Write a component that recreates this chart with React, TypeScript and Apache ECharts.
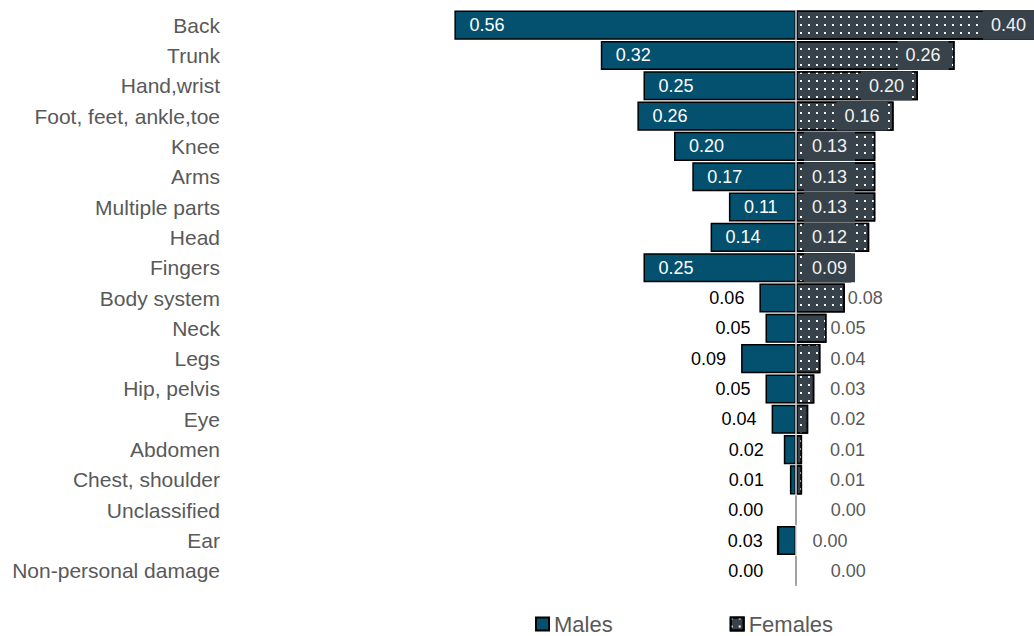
import React, { useEffect, useRef } from "react";
import * as echarts from "echarts";

// Injury location shares, by sex
const categories = [
  "Back",
  "Trunk",
  "Hand,wrist",
  "Foot, feet, ankle,toe",
  "Knee",
  "Arms",
  "Multiple parts",
  "Head",
  "Fingers",
  "Body system",
  "Neck",
  "Legs",
  "Hip, pelvis",
  "Eye",
  "Abdomen",
  "Chest, shoulder",
  "Unclassified",
  "Ear",
  "Non-personal damage",
];

const males = [0.56, 0.32, 0.25, 0.26, 0.2, 0.17, 0.11, 0.14, 0.25, 0.06, 0.05, 0.09, 0.05, 0.04, 0.02, 0.01, 0.0, 0.03, 0.0];
const females = [0.4, 0.26, 0.2, 0.16, 0.13, 0.13, 0.13, 0.12, 0.09, 0.08, 0.05, 0.04, 0.03, 0.02, 0.01, 0.01, 0.0, 0.0, 0.0];

const MALE_COLOR = "#03506f";
const FEMALE_COLOR = "#37424b";
const FONT = "'Liberation Sans', Arial, Helvetica, sans-serif";

export default function App() {
  const ref = useRef<HTMLDivElement>(null);

  useEffect(() => {
    if (!ref.current) return;
    const chart = echarts.init(ref.current, null, { renderer: "svg" });

    const maleData = males.map((v) => ({
      value: -v,
      label:
        v >= 0.1
          ? { position: "insideLeft", distance: 15, color: "#ffffff" }
          : { position: "left", distance: Math.max(15, 32 - v * 600), color: "#000000" },
    }));

    const boxLabel = {
      color: "#f2f2f2",
      backgroundColor: FEMALE_COLOR,
      padding: [6, 8, 5, 8],
      lineHeight: 18,
    };

    const femaleData = females.map((v) => {
      if (v >= 0.16) return { value: v, label: { position: "insideRight", distance: 6, ...boxLabel } };
      if (v >= 0.09) return { value: v, label: { position: "insideLeft", distance: 8, ...boxLabel } };
      return {
        value: v,
        label: { position: "right", distance: Math.max(3, 34 - v * 600), color: "#595959" },
      };
    });

    const labelBase = {
      show: true,
      fontSize: 18,
      fontFamily: FONT,
      formatter: (p: any) => Math.abs(p.value).toFixed(2),
    };

    chart.setOption({
      animation: false,
      textStyle: { fontFamily: FONT },
      grid: {
        left: 430,
        width: 610,
        top: 10,
        height: 576,
        containLabel: false,
        outerBoundsMode: "none",
      },
      legend: {
        data: ["Males", "Females"],
        left: 535,
        top: 613,
        padding: 0,
        icon: "rect",
        itemWidth: 13,
        itemHeight: 13,
        itemGap: 117,
        selectedMode: false,
        textStyle: { fontSize: 22, lineHeight: 22, color: "#595959", fontFamily: FONT },
      },
      xAxis: {
        type: "value",
        min: -0.6,
        max: 0.4,
        show: false,
      },
      yAxis: {
        type: "category",
        data: categories,
        inverse: true,
        axisLine: { show: false },
        axisTick: { show: false },
        splitLine: { show: false },
        axisLabel: { margin: 210, fontSize: 21, color: "#595959", fontFamily: FONT },
      },
      series: [
        {
          name: "Males",
          type: "bar",
          stack: "sex",
          barCategoryGap: "4%",
          data: maleData,
          itemStyle: { color: MALE_COLOR, borderColor: "#000000", borderWidth: 1.5 },
          label: labelBase,
          emphasis: { disabled: true },
        },
        {
          name: "Females",
          type: "bar",
          stack: "sex",
          barCategoryGap: "4%",
          data: femaleData,
          itemStyle: {
            color: FEMALE_COLOR,
            borderColor: "#000000",
            borderWidth: 1.5,
            decal: {
              symbol: "rect",
              symbolSize: 1,
              color: "#ffffff",
              dashArrayX: [2, 6],
              dashArrayY: [2, 6],
              rotation: 0,
            },
          },
          label: labelBase,
          emphasis: { disabled: true },
          markLine: {
            silent: true,
            symbol: "none",
            label: { show: false },
            lineStyle: { color: "#d9d9d9", width: 1.5, type: "solid" },
            data: [{ xAxis: 0 }],
          },
        },
      ],
    });

    return () => chart.dispose();
  }, []);

  return (
    <div
      ref={ref}
      style={{ position: "absolute", left: 0, top: 0, width: 1034, height: 636 }}
    />
  );
}
